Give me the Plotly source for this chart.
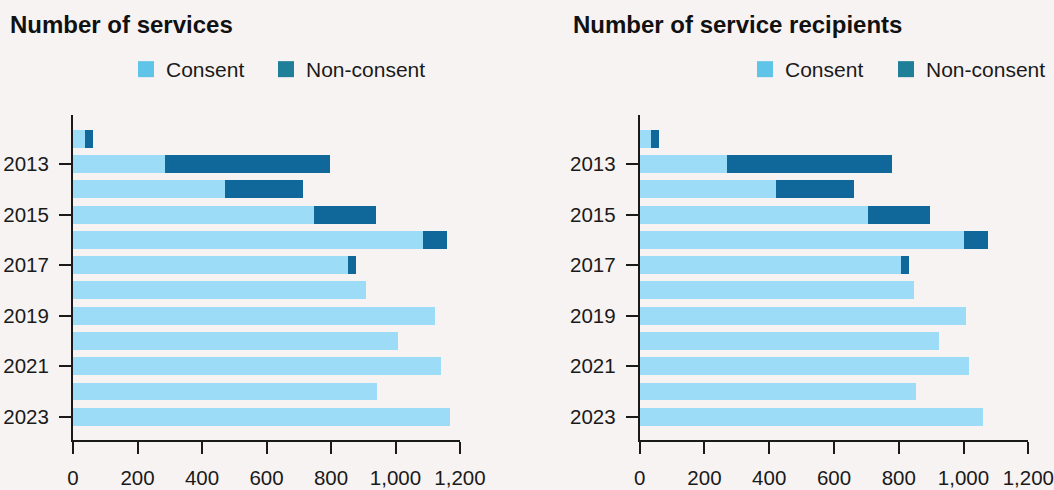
import plotly.graph_objects as go

years = list(range(2012, 2024))
tick_years = [2013, 2015, 2017, 2019, 2021, 2023]
tick_labels = [str(y) for y in tick_years]

services_consent = [37, 285, 471, 747, 1085, 853, 908, 1122, 1008, 1141, 943, 1169]
services_nonconsent = [25, 512, 242, 193, 75, 24, 0, 0, 0, 0, 0, 0]

recipients_consent = [35, 270, 421, 705, 1002, 807, 847, 1008, 924, 1017, 854, 1060]
recipients_nonconsent = [25, 509, 241, 192, 74, 25, 0, 0, 0, 0, 0, 0]

x_ticks = [0, 200, 400, 600, 800, 1000, 1200]
x_ticktext = ["0", "200", "400", "600", "800", "1,000", "1,200"]

BG = "#f8f3f3"
LIGHT = "#9ddcf7"
DARK = "#10679a"
LEG_LIGHT = "#5ec5e8"
LEG_DARK = "#1f7f98"
FONT = "Liberation Sans, Arial, sans-serif"

W, H = 1054, 490

fig = go.Figure()

panels = [
    ("x", "y", ("legend", "legend2"), services_consent, services_nonconsent),
    ("x2", "y2", ("legend3", "legend4"), recipients_consent, recipients_nonconsent),
]
for xa, ya, legs, cons, noncons in panels:
    fig.add_trace(go.Bar(x=cons, y=years, orientation="h", marker_color=LIGHT,
                         marker_line_width=0, xaxis=xa, yaxis=ya, showlegend=False,
                         hoverinfo="x+y"))
    fig.add_trace(go.Bar(x=noncons, y=years, orientation="h", marker_color=DARK,
                         marker_line_width=0, xaxis=xa, yaxis=ya, showlegend=False,
                         hoverinfo="x+y"))
    fig.add_trace(go.Scatter(x=[None], y=[None], mode="markers", name="Consent",
                             marker=dict(symbol="square", size=16, color=LEG_LIGHT),
                             xaxis=xa, yaxis=ya, legend=legs[0], showlegend=True))
    fig.add_trace(go.Scatter(x=[None], y=[None], mode="markers", name="Non-consent",
                             marker=dict(symbol="square", size=16, color=LEG_DARK),
                             xaxis=xa, yaxis=ya, legend=legs[1], showlegend=True))

ydom = [1 - 440 / H, 1 - 115 / H]
xdom1 = [73 / W, 460 / W]
xdom2 = [639.7 / W, 1028.3 / W]

xaxis_common = dict(range=[0, 1200], tickvals=x_ticks, ticktext=x_ticktext,
                    showgrid=False, zeroline=False, showline=True, linecolor="#1a1a1a",
                    linewidth=2, ticks="outside", ticklen=12, tickwidth=2,
                    tickcolor="#1a1a1a", ticklabelstandoff=6,
                    tickfont=dict(size=20.5, color="#1a1a1a", family=FONT), fixedrange=True)
yaxis_common = dict(range=[2023.92, 2011.06], tickvals=tick_years, ticktext=tick_labels,
                    showgrid=False, zeroline=False, showline=True, linecolor="#1a1a1a",
                    linewidth=2, ticks="outside", ticklen=12, tickwidth=2,
                    tickcolor="#1a1a1a", ticklabelstandoff=6,
                    tickfont=dict(size=20.5, color="#1a1a1a", family=FONT), fixedrange=True)

legend_common = dict(orientation="h", yanchor="top", xanchor="left",
                     font=dict(size=21, color="#1a1a1a", family=FONT),
                     bgcolor="rgba(0,0,0,0)", itemsizing="trace")

LEG_Y = 1 - 49 / H

fig.update_layout(
    width=W, height=H,
    paper_bgcolor=BG, plot_bgcolor=BG,
    margin=dict(l=0, r=0, t=0, b=0, autoexpand=False),
    barmode="stack", bargap=0.29,
    font=dict(family=FONT, color="#1a1a1a"),
    xaxis=dict(domain=xdom1, anchor="y", **xaxis_common),
    yaxis=dict(domain=ydom, anchor="x", **yaxis_common),
    xaxis2=dict(domain=xdom2, anchor="y2", **xaxis_common),
    yaxis2=dict(domain=ydom, anchor="x2", **yaxis_common),
    legend=dict(x=126 / W, y=LEG_Y, **legend_common),
    legend2=dict(x=266 / W, y=LEG_Y, **legend_common),
    legend3=dict(x=745 / W, y=LEG_Y, **legend_common),
    legend4=dict(x=886 / W, y=LEG_Y, **legend_common),
    annotations=[
        dict(text="<b>Number of services</b>", x=8 / W, y=1 - 25 / H, xref="paper", yref="paper",
             xanchor="left", yanchor="middle", showarrow=False,
             font=dict(size=24, color="#111111", family=FONT)),
        dict(text="<b>Number of service recipients</b>", x=570.7 / W, y=1 - 25 / H,
             xref="paper", yref="paper", xanchor="left", yanchor="middle", showarrow=False,
             font=dict(size=24, color="#111111", family=FONT)),
    ],
)

fig.write_html("out.html", config={"displayModeBar": False},
               post_script="document.body.style.margin='0';document.body.style.background='" + BG + "';")
